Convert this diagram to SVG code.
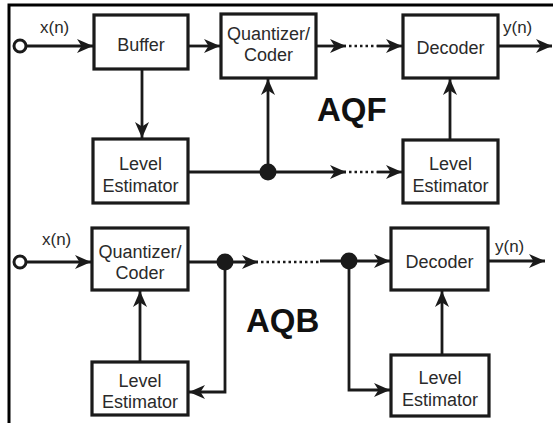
<svg xmlns="http://www.w3.org/2000/svg" width="553" height="423" viewBox="0 0 553 423">
<style>
.box{fill:#fff;stroke:#1a1a1a;stroke-width:3.2}
.ln{fill:none;stroke:#1a1a1a;stroke-width:2.8}
.dot{fill:none;stroke:#1a1a1a;stroke-width:2.5;stroke-dasharray:2.5 3}
.lbl{font-family:"Liberation Sans",Arial,sans-serif;font-size:18px;fill:#2a2a2a;text-anchor:middle}
.sig{font-family:"Liberation Sans",Arial,sans-serif;font-size:17px;fill:#2a2a2a}
.big{font-family:"Liberation Sans",Arial,sans-serif;font-size:33px;font-weight:bold;fill:#111}
.jn{fill:#1a1a1a}
.src{fill:#fff;stroke:#1a1a1a;stroke-width:3}
</style>
<defs>
<marker id="ah" markerUnits="userSpaceOnUse" markerWidth="17" markerHeight="15" refX="16" refY="7.5" orient="auto">
<path d="M0,0.5 L16,7.5 L0,14.5 L4.5,7.5 z" fill="#1a1a1a"/>
</marker>
</defs>
<rect x="0" y="0" width="553" height="423" fill="#fff"/>
<path d="M9,423 V5 H553" fill="none" stroke="#000" stroke-width="3"/>

<g id="connectors">
<line class="ln" x1="26" y1="46" x2="93" y2="46" marker-end="url(#ah)"/>
<line class="ln" x1="188" y1="46" x2="220" y2="46" marker-end="url(#ah)"/>
<line class="ln" x1="316" y1="46" x2="346" y2="46" marker-end="url(#ah)"/>
<line class="dot" x1="349" y1="46" x2="377" y2="46"/>
<line class="ln" x1="377" y1="46" x2="402" y2="46" marker-end="url(#ah)"/>
<line class="ln" x1="498" y1="46" x2="552" y2="46" marker-end="url(#ah)"/>
<line class="ln" x1="142" y1="69" x2="142" y2="138" marker-end="url(#ah)"/>
<line class="ln" x1="188" y1="172" x2="268" y2="172"/>
<line class="ln" x1="268" y1="172" x2="268" y2="79" marker-end="url(#ah)"/>
<line class="ln" x1="268" y1="172" x2="346" y2="172" marker-end="url(#ah)"/>
<line class="dot" x1="349" y1="172" x2="377" y2="172"/>
<line class="ln" x1="377" y1="172" x2="402" y2="172" marker-end="url(#ah)"/>
<line class="ln" x1="450" y1="140" x2="450" y2="79" marker-end="url(#ah)"/>

<line class="ln" x1="26" y1="262" x2="91" y2="262" marker-end="url(#ah)"/>
<line class="ln" x1="188" y1="262" x2="258" y2="262" marker-end="url(#ah)"/>
<line class="dot" x1="261" y1="262" x2="320" y2="262"/>
<line class="ln" x1="320" y1="261" x2="390" y2="261" marker-end="url(#ah)"/>
<line class="ln" x1="488" y1="261" x2="545" y2="261" marker-end="url(#ah)"/>
<polyline class="ln" points="225,262 225,392 189,392" marker-end="url(#ah)"/>
<line class="ln" x1="140" y1="362" x2="140" y2="291" marker-end="url(#ah)"/>
<polyline class="ln" points="349,261 349,390 390,390" marker-end="url(#ah)"/>
<line class="ln" x1="442" y1="355" x2="442" y2="291" marker-end="url(#ah)"/>

<circle class="jn" cx="268" cy="172" r="8.5"/>
<circle class="jn" cx="225" cy="262" r="8.5"/>
<circle class="jn" cx="349" cy="261" r="8.5"/>
</g>

<g id="src1"><circle class="src" cx="20" cy="46" r="6"/><text class="sig" x="40" y="33">x(n)</text></g>
<g id="buffer"><rect class="box" x="94" y="15" width="94" height="54"/><text class="lbl" x="141" y="51">Buffer</text></g>
<g id="quant1"><rect class="box" x="221" y="14" width="95" height="64"/><text class="lbl" x="268.5" y="40">Quantizer/</text><text class="lbl" x="268.5" y="61">Coder</text></g>
<g id="decoder1"><rect class="box" x="403" y="15" width="95" height="63"/><text class="lbl" x="450.5" y="54">Decoder</text></g>
<g id="out1"><text class="sig" x="503" y="33">y(n)</text></g>
<g id="level1"><rect class="box" x="93" y="139" width="95" height="64"/><text class="lbl" x="140.5" y="170">Level</text><text class="lbl" x="140.5" y="192">Estimator</text></g>
<g id="level1r"><rect class="box" x="403" y="140" width="95" height="63"/><text class="lbl" x="450.5" y="170">Level</text><text class="lbl" x="450.5" y="192">Estimator</text></g>
<text class="big" x="317" y="121">AQF</text>

<g id="src2"><circle class="src" cx="20" cy="262" r="6"/><text class="sig" x="42" y="245">x(n)</text></g>
<g id="quant2"><rect class="box" x="92" y="228" width="96" height="62"/><text class="lbl" x="140" y="258">Quantizer/</text><text class="lbl" x="140" y="279">Coder</text></g>
<g id="decoder2"><rect class="box" x="391" y="228" width="97" height="62"/><text class="lbl" x="439.5" y="268">Decoder</text></g>
<g id="out2"><text class="sig" x="495" y="252">y(n)</text></g>
<g id="level2"><rect class="box" x="92" y="362" width="96" height="53"/><text class="lbl" x="140" y="387">Level</text><text class="lbl" x="140" y="408">Estimator</text></g>
<g id="level3"><rect class="box" x="391" y="355" width="98" height="61"/><text class="lbl" x="440" y="384">Level</text><text class="lbl" x="440" y="406">Estimator</text></g>
<text class="big" x="246" y="332">AQB</text>
</svg>
